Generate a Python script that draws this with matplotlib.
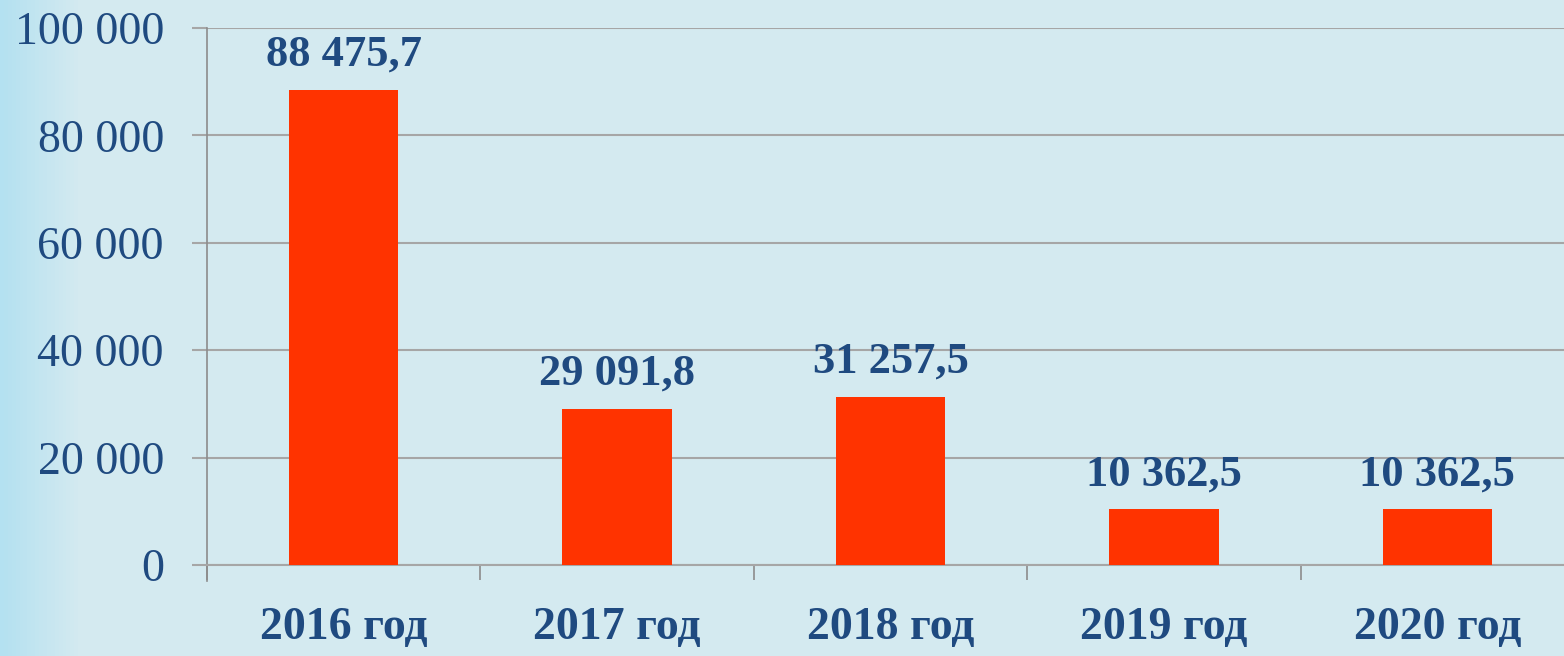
import numpy as np
import matplotlib.pyplot as plt
from matplotlib.colors import LinearSegmentedColormap

# data
years = ['2016 год', '2017 год', '2018 год', '2019 год', '2020 год']
values = [88475.7, 29091.8, 31257.5, 10362.5, 10362.5]
yticks = [0, 20000, 40000, 60000, 80000, 100000]

bg = '#d4eaf0'
blue = '#1f4a80'
grid = '#a6a6a6'


def fmt_int(v):
    return f'{v:,.0f}'.replace(',', ' ')


def fmt_val(v):
    return f'{v:,.1f}'.replace(',', ' ').replace('.', ',')


plt.rcParams['font.family'] = ['Liberation Serif', 'DejaVu Serif']

fig = plt.figure(figsize=(15.64, 6.56), dpi=100)
fig.patch.set_facecolor(bg)

# light gradient on the left edge
bgax = fig.add_axes([0, 0, 1, 1], zorder=-10)
grad = np.linspace(0, 1, 400).reshape(1, -1)
cmap = LinearSegmentedColormap.from_list('edge', ['#b4e1f1', bg, bg])
bgax.imshow(grad, aspect='auto', cmap=cmap, extent=[0, 1, 0, 1],
            vmin=0, vmax=0.1)
bgax.axis('off')

ax = fig.add_axes([207 / 1564, 91 / 656, 1367 / 1564, 537 / 656])
ax.set_facecolor('none')

x = np.arange(len(years))
ax.bar(x, values, width=0.4, color='#ff3300', zorder=3)

for xi, v in zip(x, values):
    ax.annotate(fmt_val(v), (xi, v), xytext=(0, 11), textcoords='offset points',
                ha='center', va='bottom', fontsize=32, fontweight='bold',
                color=blue)

ax.set_xlim(-0.5, len(years) - 0.5)
ax.set_ylim(0, 100000)
ax.set_yticks(yticks)
ax.set_yticklabels([fmt_int(t) for t in yticks], fontsize=33, color=blue)
ax.yaxis.grid(True, color=grid, linewidth=1.5, zorder=0)

ax.set_xticks(x)
ax.set_xticklabels(years, fontsize=33, fontweight='bold', color=blue)
ax.set_xticks(np.arange(len(years)) - 0.5, minor=True)
ax.tick_params(axis='x', which='major', length=0, pad=30)
ax.tick_params(axis='x', which='minor', length=11, width=1.2, color='#8c8c8c')
ax.tick_params(axis='y', length=11, width=1.5, color=grid, pad=20)

for s in ['top', 'right']:
    ax.spines[s].set_visible(False)
ax.spines['left'].set_color('#8c8c8c')
ax.spines['left'].set_linewidth(1.2)
ax.spines['left'].set_bounds(-3000, 100000)
ax.spines['bottom'].set_color(grid)
ax.spines['bottom'].set_linewidth(1.5)

fig.savefig('out.png', dpi=100, facecolor=bg)
